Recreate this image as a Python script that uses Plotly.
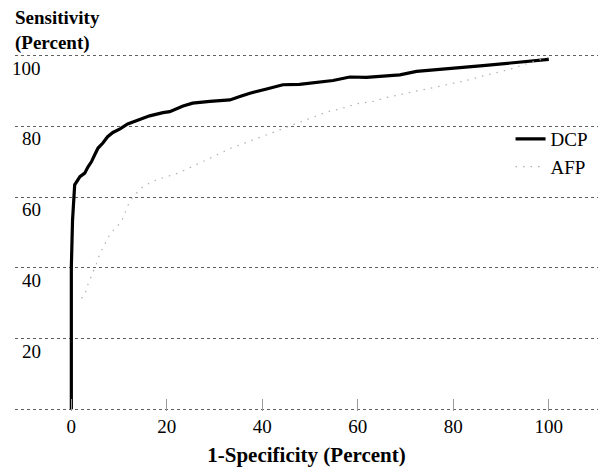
import plotly.graph_objects as go

# DCP ROC curve (1-specificity %, sensitivity %)
dcp_x = [0, 0, 0, 0.25, 0.5, 0.7, 1.8, 2.8, 3.5, 4.2, 4.9, 5.6, 6.6, 7.6, 8.7, 10.2,
         11.8, 14.3, 16.4, 19.2, 20.6, 23.4, 25.4, 29, 33.2, 35.3, 37.4, 40.9, 44.3,
         47.8, 54.8, 58.3, 61.8, 68.8, 72.3, 86.2, 100]
dcp_y = [0, 25, 40.3, 53.5, 62, 63.5, 65.8, 66.8, 68.6, 70, 72, 73.9, 75.3, 77.1, 78.3, 79.3,
         80.7, 81.9, 83, 83.9, 84.2, 85.8, 86.6, 87.1, 87.5, 88.5, 89.4, 90.6, 91.8,
         91.9, 93, 94, 93.9, 94.6, 95.6, 97.2, 99]

# AFP ROC curve
afp_x = [2.1, 2.8, 3.5, 4.4, 5.3, 6, 6.7, 7.4, 8.2, 9.5, 10.5, 11.9, 12.9, 15, 16.4, 17.8,
         22.4, 27.6, 30.4, 33.5, 38.1, 40.9, 43.7, 47.2, 51, 53.4, 56.2, 59.7, 63.2, 66,
         70.2, 75.1, 79.3, 82.8, 86.2, 89.7, 91.4, 95, 100]
afp_y = [31.4, 32.3, 35.4, 38.2, 41.3, 44.1, 46, 47.9, 49.8, 51.6, 53.1, 57.8, 60.1, 63, 63.9, 64.9,
         66.8, 70.1, 72, 73.9, 76.2, 77.6, 79, 80.7, 82.8, 84.1, 84.9, 86.4, 87.1, 88.2,
         89.4, 90.8, 92.2, 93, 94.3, 95.4, 96, 97.6, 99.6]

x_ticks = [0, 20, 40, 60, 80, 100]
y_ticks = [20, 40, 60, 80, 100]

FONT = "Liberation Serif, Times New Roman, serif"

fig = go.Figure()
fig.add_trace(go.Scatter(x=dcp_x, y=dcp_y, mode="lines", name="DCP",
                         line=dict(color="black", width=3.2), cliponaxis=False))
fig.add_trace(go.Scatter(x=afp_x, y=afp_y, mode="lines", name="AFP",
                         line=dict(color="#b0b0b0", width=1.2, dash="1.5px,6px"),
                         cliponaxis=False))

annotations = []
for v in y_ticks:
    annotations.append(dict(x=0.048, xref="paper", y=v, yref="y", text=str(v),
                            showarrow=False, xanchor="right", yanchor="top", yshift=0,
                            font=dict(family=FONT, size=19, color="black")))
annotations.append(dict(x=0, xref="paper", y=1, yref="paper",
                        text="<b>Sensitivity</b><br><b>(Percent)</b>",
                        showarrow=False, xanchor="left", yanchor="bottom", align="left",
                        xshift=-2, yshift=-2, font=dict(family=FONT, size=19, color="black")))

fig.update_layout(
    width=600, height=467,
    margin=dict(l=15, r=2, t=54, b=56),
    paper_bgcolor="white", plot_bgcolor="white",
    showlegend=True,
    legend=dict(x=0.85, y=0.815, xanchor="left", yanchor="top",
                bgcolor="rgba(0,0,0,0)", font=dict(family=FONT, size=19, color="black"),
                tracegroupgap=0, itemwidth=30),
    annotations=annotations,
    xaxis=dict(range=[-11.8, 110.3], tickvals=x_ticks, ticktext=[str(v) for v in x_ticks],
               showgrid=False, zeroline=False, showline=False,
               ticks="inside", ticklen=12, tickwidth=1, tickcolor="#9a9a9a",
               ticklabelstandoff=2,
               tickfont=dict(family=FONT, size=19, color="black"),
               title=dict(text="<b>1-Specificity (Percent)</b>", standoff=12,
                          font=dict(family=FONT, size=21, color="black"))),
    yaxis=dict(range=[-0.5, 100.5], tickvals=[0] + y_ticks, showticklabels=False,
               showgrid=True, gridcolor="#606060", gridwidth=1, griddash="dot",
               zeroline=False, showline=False, ticks=""),
)

fig.write_html("out.html", config={"displayModeBar": False},
               post_script="document.body.style.margin='0';")
